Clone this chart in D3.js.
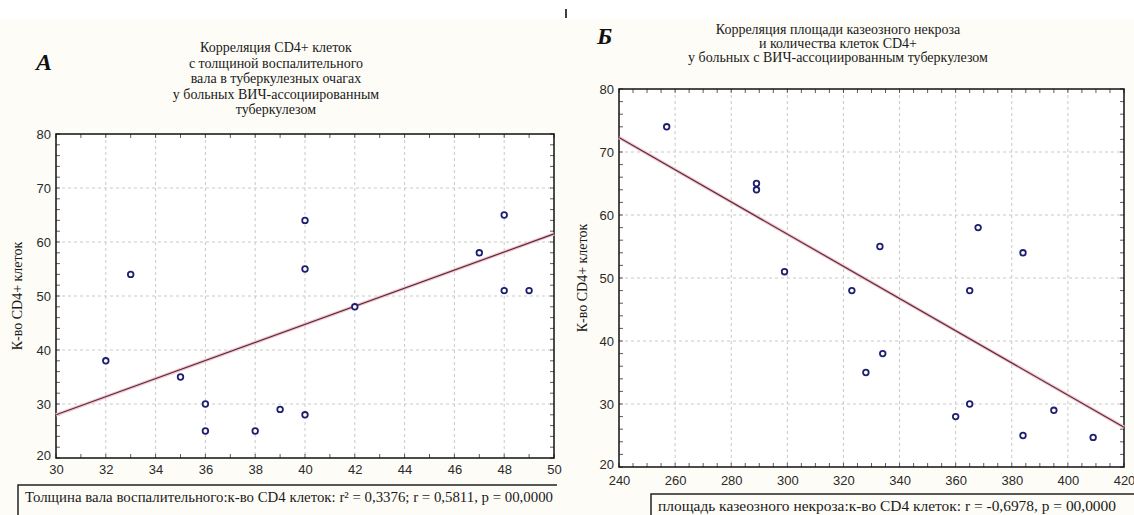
<!DOCTYPE html>
<html>
<head>
<meta charset="utf-8">
<script src="https://cdn.jsdelivr.net/npm/d3@7"></script>
<style>
  html, body { margin: 0; padding: 0; background: #fdfcf6; }
  svg { display: block; }
</style>
</head>
<body>
<svg id="chart" width="1134" height="515"></svg>
<script>
// panel A: thickness of inflammatory rim vs CD4+ cells
const aX = [32, 33, 35, 36, 36, 38, 39, 40, 40, 40, 42, 47, 48, 48, 49];
const aY = [38, 54, 35, 30, 25, 25, 29, 64, 55, 28, 48, 58, 65, 51, 51];
const aFitX = [30, 50];
const aFitY = [28, 61.5];
const aXTicks = [30, 32, 34, 36, 38, 40, 42, 44, 46, 48, 50];
const aYTicks = [20, 30, 40, 50, 60, 70, 80];
const aTitle = [
  "Корреляция CD4+ клеток",
  "с толщиной воспалительного",
  "вала в туберкулезных очагах",
  "у больных ВИЧ-ассоциированным",
  "туберкулезом"
];
const aFooter = "Толщина вала воспалительного:к-во  CD4 клеток:  r² = 0,3376;  r = 0,5811, p = 00,0000";

// panel B: area of caseous necrosis vs CD4+ cells
const bX = [257, 289, 289, 299, 323, 333, 365, 368, 384, 328, 334, 360, 365, 384, 395, 409];
const bY = [74, 65, 64, 51, 48, 55, 48, 58, 54, 35, 38, 28, 30, 25, 29, 24.7];
const bFitX = [240, 420];
const bFitY = [72.3, 26.3];
const bXTicks = [240, 260, 280, 300, 320, 340, 360, 380, 400, 420];
const bYTicks = [20, 30, 40, 50, 60, 70, 80];
const bTitle = [
  "Корреляция площади казеозного некроза",
  "и количества клеток CD4+",
  "у больных с ВИЧ-ассоциированным туберкулезом"
];
const bFooter = "площадь казеозного некроза:к-во CD4 клеток:   r = -0,6978, p = 00,0000";

const serif = "'Liberation Serif', 'DejaVu Serif', serif";
const sans = "'Liberation Sans', Arial, sans-serif";
const ink = "#1a1a1a";

const svg = d3.select("#chart");

// white strip at the very top, as in the scan
svg.append("rect").attr("x", 0).attr("y", 0).attr("width", 1134).attr("height", 18).attr("fill", "#ffffff");
svg.append("line")
  .attr("x1", 566).attr("x2", 566).attr("y1", 9).attr("y2", 18)
  .attr("stroke", "#000").attr("stroke-width", 1.5);

const drawPanel = (p) => {
  const g = svg.append("g");
  const x = d3.scaleLinear().domain(p.xDomain).range([p.left, p.right]);
  const y = d3.scaleLinear().domain(p.yDomain).range([p.bottom, p.top]);

  g.append("rect")
    .attr("x", p.left).attr("y", p.top)
    .attr("width", p.right - p.left).attr("height", p.bottom - p.top)
    .attr("fill", "#ffffff");

  // dashed grid
  g.append("g")
    .selectAll("line")
    .data(p.xTicks.slice(1, -1))
    .join("line")
    .attr("x1", (d) => x(d)).attr("x2", (d) => x(d))
    .attr("y1", p.top).attr("y2", p.bottom)
    .attr("stroke", "#c9c9c9").attr("stroke-dasharray", "3,3");
  g.append("g")
    .selectAll("line")
    .data(p.yTicks.slice(1, -1))
    .join("line")
    .attr("x1", p.left).attr("x2", p.right)
    .attr("y1", (d) => y(d)).attr("y2", (d) => y(d))
    .attr("stroke", "#c9c9c9").attr("stroke-dasharray", "3,3");

  // inward minor ticks on all sides
  const tick = 4;
  const xMinor = d3.range(p.xDomain[0], p.xDomain[1] + 0.001, p.xMinorStep);
  const yMinor = d3.range(p.yDomain[0], p.yDomain[1] + 0.001, p.yMinorStep);
  [["bottom", -tick], ["top", tick]].forEach(([side, len]) => {
    const base = side === "bottom" ? p.bottom : p.top;
    g.append("g").selectAll("line").data(xMinor).join("line")
      .attr("x1", (d) => x(d)).attr("x2", (d) => x(d))
      .attr("y1", base).attr("y2", base + len)
      .attr("stroke", "#333").attr("stroke-width", 0.8);
  });
  [["left", tick], ["right", -tick]].forEach(([side, len]) => {
    const base = side === "left" ? p.left : p.right;
    g.append("g").selectAll("line").data(yMinor).join("line")
      .attr("x1", base).attr("x2", base + len)
      .attr("y1", (d) => y(d)).attr("y2", (d) => y(d))
      .attr("stroke", "#333").attr("stroke-width", 0.8);
  });

  // axes: labels only, frame drawn separately
  const xAxis = g.append("g")
    .attr("transform", `translate(0, ${p.bottom})`)
    .call(d3.axisBottom(x).tickValues(p.xTicks).tickSize(0).tickPadding(p.xPad));
  const yAxis = g.append("g")
    .attr("transform", `translate(${p.left}, 0)`)
    .call(d3.axisLeft(y).tickValues(p.yTicks).tickSize(0).tickPadding(5));
  [xAxis, yAxis].forEach((a) => {
    a.select(".domain").remove();
    a.selectAll("text")
      .attr("font-family", sans).attr("font-size", 13).attr("fill", "#2a2a2a");
  });
  // the lowest y label sits a little above the corner, clear of the x labels
  yAxis.selectAll(".tick text").filter((d) => d === p.yDomain[0]).attr("dy", "0.1em");

  g.append("rect")
    .attr("x", p.left).attr("y", p.top)
    .attr("width", p.right - p.left).attr("height", p.bottom - p.top)
    .attr("fill", "none").attr("stroke", "#111").attr("stroke-width", 1.5);

  // fitted line
  const fit = p.fitX.map((d, i) => [d, p.fitY[i]]);
  const line = d3.line().x((d) => x(d[0])).y((d) => y(d[1]));
  g.append("path").datum(fit).attr("d", line)
    .attr("fill", "none").attr("stroke", "#f3c9d1").attr("stroke-width", 3.5);
  g.append("path").datum(fit).attr("d", line)
    .attr("fill", "none").attr("stroke", "#5b2a3a").attr("stroke-width", 1.2);

  // points
  g.append("g")
    .selectAll("circle")
    .data(p.xs.map((d, i) => [d, p.ys[i]]))
    .join("circle")
    .attr("cx", (d) => x(d[0])).attr("cy", (d) => y(d[1]))
    .attr("r", 2.8)
    .attr("fill", "#ffffff").attr("stroke", "#1f1f70").attr("stroke-width", 1.8);

  // titles
  g.append("text")
    .attr("x", p.titleX).attr("y", p.titleY)
    .attr("text-anchor", "middle")
    .attr("font-family", serif).attr("font-size", 14).attr("fill", ink)
    .selectAll("tspan")
    .data(p.title)
    .join("tspan")
    .attr("x", p.titleX)
    .attr("dy", (_d, i) => (i === 0 ? 0 : p.titleGap))
    .text((d) => d);

  g.append("text")
    .attr("x", p.letterX).attr("y", p.letterY)
    .attr("font-family", serif).attr("font-size", 24)
    .attr("font-weight", "bold").attr("font-style", "italic").attr("fill", "#111")
    .text(p.letter);

  g.append("text")
    .attr("transform", `translate(${p.yLabelX}, ${(p.top + p.bottom) / 2}) rotate(-90)`)
    .attr("text-anchor", "middle")
    .attr("font-family", serif).attr("font-size", 14).attr("fill", ink)
    .text("К-во CD4+ клеток");

  // footer box with statistics
  g.append("path")
    .attr("d", `M${p.boxLeft},515 V${p.boxTop} H${p.boxRight}`)
    .attr("fill", "none").attr("stroke", "#222").attr("stroke-width", 1.5);
  g.append("text")
    .attr("x", p.boxLeft + 7).attr("y", p.boxTop + 17)
    .attr("font-family", serif).attr("font-size", 15).attr("fill", ink)
    .attr("textLength", p.footerWidth).attr("lengthAdjust", "spacingAndGlyphs")
    .text(p.footer);
};

drawPanel({
  xs: aX, ys: aY, fitX: aFitX, fitY: aFitY,
  xTicks: aXTicks, yTicks: aYTicks, xDomain: [30, 50], yDomain: [20, 80],
  xMinorStep: 1, yMinorStep: 2,
  left: 56, right: 554, top: 134, bottom: 458, xPad: 7,
  title: aTitle, titleX: 276, titleY: 52, titleGap: 15.5,
  letter: "A", letterX: 36, letterY: 70,
  yLabelX: 22,
  footer: aFooter, footerWidth: 528, boxLeft: 18, boxRight: 557, boxTop: 485
});

drawPanel({
  xs: bX, ys: bY, fitX: bFitX, fitY: bFitY,
  xTicks: bXTicks, yTicks: bYTicks, xDomain: [240, 420], yDomain: [20, 80],
  xMinorStep: 5, yMinorStep: 2,
  left: 619, right: 1124, top: 89, bottom: 467, xPad: 9,
  title: bTitle, titleX: 838, titleY: 34, titleGap: 14,
  letter: "Б", letterX: 597, letterY: 44,
  yLabelX: 587,
  footer: bFooter, footerWidth: 458, boxLeft: 651, boxRight: 1134, boxTop: 494
});
</script>
</body>
</html>
